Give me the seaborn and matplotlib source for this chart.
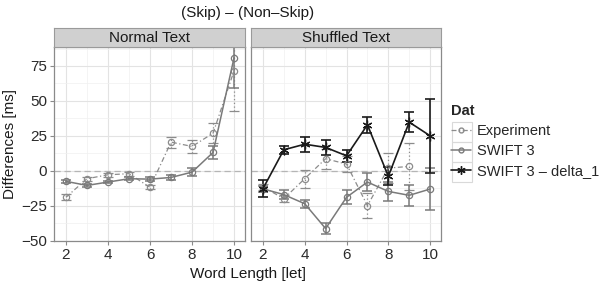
import numpy as np
import pandas as pd
import matplotlib
matplotlib.use("Agg")
import matplotlib.pyplot as plt
from matplotlib.lines import Line2D
from matplotlib.patches import Rectangle
from matplotlib.ticker import MultipleLocator
import seaborn as sns

# word lengths
word_len = [2, 3, 4, 5, 6, 7, 8, 9, 10]
panels = ["Normal Text", "Shuffled Text"]
series = ["Experiment", "SWIFT 3", "SWIFT 3 \u2013 delta_1"]

# Normal Text
normal_exp = [-19.0, -5.7, -2.9, -2.1, -11.9, 20.5, 17.4, 26.9, 71.6]
normal_exp_err = [2.0, 1.5, 1.5, 1.5, 1.5, 4.0, 4.5, 7.0, 29.0]
normal_swift = [-7.6, -10.5, -8.1, -5.7, -6.0, -4.8, -1.0, 13.1, 81.0]
normal_swift_err = [1.0, 1.0, 1.0, 1.0, 1.5, 1.5, 3.0, 4.8, 22.0]

# Shuffled Text
shuf_exp = [-11.5, -20.0, -5.7, 8.6, 4.8, -25.0, 1.9, 3.1, np.nan]
shuf_exp_err = [2.0, 2.5, 6.5, 7.0, 6.0, 9.0, 11.0, 16.7, np.nan]
shuf_swift = [-12.9, -17.1, -23.6, -41.4, -19.0, -8.1, -14.8, -17.6, -13.1]
shuf_swift_err = [2.0, 3.2, 3.0, 4.2, 5.0, 6.3, 7.0, 7.5, 15.0]
shuf_delta = [-12.9, 15.0, 19.0, 16.7, 10.7, 32.9, -4.0, 34.8, 25.0]
shuf_delta_err = [6.0, 2.9, 5.4, 5.1, 4.4, 5.7, 6.5, 7.4, 26.5]

rows = []
for panel, ser, vals, errs in [
    ("Normal Text", "Experiment", normal_exp, normal_exp_err),
    ("Normal Text", "SWIFT 3", normal_swift, normal_swift_err),
    ("Shuffled Text", "Experiment", shuf_exp, shuf_exp_err),
    ("Shuffled Text", "SWIFT 3", shuf_swift, shuf_swift_err),
    ("Shuffled Text", "SWIFT 3 \u2013 delta_1", shuf_delta, shuf_delta_err),
]:
    for x, v, e in zip(word_len, vals, errs):
        rows.append({"panel": panel, "Dat": ser, "len": x, "diff": v, "err": e})
df = pd.DataFrame(rows)

styles = {
    "Experiment": dict(color="#8c8c8c", ls=(0, (4, 2, 1, 2)), marker="o", ms=4.5, lw=0.9),
    "SWIFT 3": dict(color="#7a7a7a", ls="-", marker="o", ms=4.5, lw=1.1),
    "SWIFT 3 \u2013 delta_1": dict(color="#1a1a1a", ls="-", marker=(6, 2, 0), ms=7, lw=1.2),
}

sns.set_style("white")
plt.rcParams["font.family"] = ["Liberation Sans", "DejaVu Sans"]

fig = plt.figure(figsize=(6.03, 2.85), dpi=100)
W, H = 603, 285
ax_pos = [(54, 245), (251, 441)]
top, bottom = 47, 241
axes = []
for i, (l, r) in enumerate(ax_pos):
    ax = fig.add_axes([l / W, 1 - bottom / H, (r - l) / W, (bottom - top) / H])
    axes.append(ax)
    # strip
    sax = fig.add_axes([l / W, 1 - top / H, (r - l) / W, 19 / H])
    sax.set_facecolor("#d0d0d0")
    sax.set_xticks([]); sax.set_yticks([])
    for s in sax.spines.values():
        s.set_color("#9a9a9a"); s.set_linewidth(0.8)
    sax.text(0.5, 0.45, panels[i], ha="center", va="center", fontsize=11, color="#1a1a1a")

for ax, panel in zip(axes, panels):
    sub = df[df["panel"] == panel]
    ax.axhline(0, color="#b5b5b5", lw=0.9, ls=(0, (5, 3)), zorder=1)
    for ser in series:
        d = sub[sub["Dat"] == ser]
        if d.empty:
            continue
        st = styles[ser]
        eb = ax.errorbar(d["len"], d["diff"], yerr=d["err"], fmt="none", ecolor=st["color"],
                         elinewidth=st["lw"], capsize=3.5, capthick=st["lw"], zorder=3)
        if ser == "Experiment":
            for c in eb[2]:
                c.set_linestyle((0, (1, 2)))
        sns.lineplot(data=d, x="len", y="diff", ax=ax, color=st["color"], linestyle=st["ls"],
                     lw=st["lw"], marker=st["marker"], markersize=st["ms"],
                     markerfacecolor="none", markeredgecolor=st["color"], markeredgewidth=0.9,
                     errorbar=None, legend=False, zorder=4)
    ax.set_xlim(1.43, 10.52)
    ax.set_ylim(-50.3, 88.6)
    ax.xaxis.set_major_locator(MultipleLocator(2))
    ax.xaxis.set_minor_locator(MultipleLocator(1))
    ax.yaxis.set_major_locator(MultipleLocator(25))
    ax.yaxis.set_minor_locator(MultipleLocator(12.5))
    ax.grid(which="major", color="#e3e3e3", lw=0.8)
    ax.grid(which="minor", color="#f0f0f0", lw=0.5)
    ax.set_axisbelow(True)
    for s in ax.spines.values():
        s.set_color("#8a8a8a"); s.set_linewidth(0.9)
    ax.tick_params(axis="both", which="major", length=3, color="#8a8a8a", labelsize=11,
                   labelcolor="#2a2a2a", left=True, bottom=True, pad=2)
    ax.tick_params(which="minor", length=0)
    ax.set_xlabel("")
    ax.set_ylabel("")

axes[1].tick_params(labelleft=False, left=False)
axes[0].set_ylabel("Differences [ms]", fontsize=11, color="#1a1a1a", labelpad=3)
fig.text((54 + 441) / 2 / W, 1 - 274 / H, "Word Length [let]", ha="center", va="center",
         fontsize=11, color="#1a1a1a")
fig.text((54 + 441) / 2 / W, 1 - 13 / H, "(Skip) \u2013 (Non\u2013Skip)", ha="center", va="center",
         fontsize=11, color="#1a1a1a")

# legend key boxes (ggplot style)
for yc in [132, 152, 171.5]:
    fig.patches.append(Rectangle((452 / W, 1 - (yc + 10) / H), 20 / W, 20 / H,
                                 transform=fig.transFigure, fill=False,
                                 edgecolor="#d9d9d9", lw=0.8))

handles = []
for ser in series:
    st = styles[ser]
    handles.append(Line2D([], [], color=st["color"], ls=st["ls"], lw=st["lw"], marker=st["marker"],
                          ms=st["ms"] - 1, mfc="none", mec=st["color"]))
leg = fig.legend(handles, series, title="Dat", loc="upper left", bbox_to_anchor=(451 / W, 1 - 104 / H),
                 frameon=False, fontsize=10.5, handlelength=1.4, handletextpad=0.35,
                 labelspacing=0.42, borderaxespad=0, borderpad=0)
leg.get_title().set_fontweight("bold")
leg.get_title().set_fontsize(10.5)
leg._legend_box.align = "left"

fig.savefig("out.png", dpi=100)
